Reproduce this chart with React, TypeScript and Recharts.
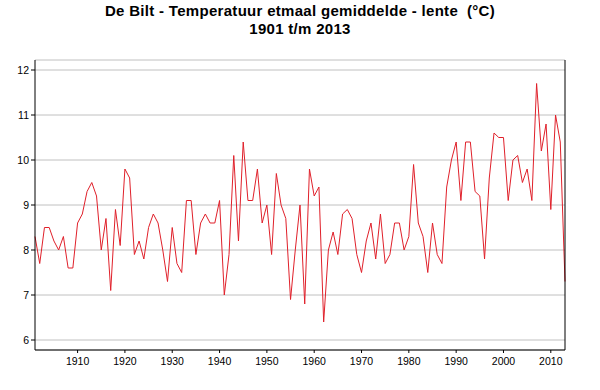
import { CartesianGrid, Line, LineChart, XAxis, YAxis } from "recharts";

const FIRST_YEAR = 1901;

// spring mean temperature, De Bilt, 1901..2013 (°C)
const temps = [
  8.3, 7.7, 8.5, 8.5, 8.2, 8.0, 8.3, 7.6, 7.6, 8.6,
  8.8, 9.3, 9.5, 9.2, 8.0, 8.7, 7.1, 8.9, 8.1, 9.8,
  9.6, 7.9, 8.2, 7.8, 8.5, 8.8, 8.6, 8.0, 7.3, 8.5,
  7.7, 7.5, 9.1, 9.1, 7.9, 8.6, 8.8, 8.6, 8.6, 9.1,
  7.0, 7.9, 10.1, 8.2, 10.4, 9.1, 9.1, 9.8, 8.6, 9.0,
  7.9, 9.7, 9.0, 8.7, 6.9, 8.0, 9.0, 6.8, 9.8, 9.2,
  9.4, 6.4, 8.0, 8.4, 7.9, 8.8, 8.9, 8.7, 7.9, 7.5,
  8.2, 8.6, 7.8, 8.8, 7.7, 7.9, 8.6, 8.6, 8.0, 8.3,
  9.9, 8.6, 8.3, 7.5, 8.6, 7.9, 7.7, 9.4, 10.0, 10.4,
  9.1, 10.4, 10.4, 9.3, 9.2, 7.8, 9.6, 10.6, 10.5, 10.5,
  9.1, 10.0, 10.1, 9.5, 9.8, 9.1, 11.7, 10.2, 10.8, 8.9,
  11.0, 10.4, 7.3,
];

const xTicks = [1910, 1920, 1930, 1940, 1950, 1960, 1970, 1980, 1990, 2000, 2010];
const yTicks = [6, 7, 8, 9, 10, 11, 12];

const data = temps.map((t, i) => ({ year: FIRST_YEAR + i, temp: t }));

const font = "Arial, 'Liberation Sans', sans-serif";
const tick = { fill: "#000", fontSize: 10.5, fontFamily: font };
const black = { stroke: "#000", strokeWidth: 1 };
// a bit of room above 12 and below 6, as in the original
const yDomain = [6 - 10 / 45, 12 + 10 / 45];

export default function App() {
  return (
    <div style={{ position: "absolute", left: 0, top: 0, width: 600, height: 390, background: "#fff" }}>
      <div
        style={{
          position: "absolute", top: 2, left: 0, width: 600, textAlign: "center",
          fontFamily: font, fontWeight: "bold", fontSize: 15, lineHeight: "18px",
          letterSpacing: "0.3px", color: "#000",
        }}
      >
        De Bilt - Temperatuur etmaal gemiddelde - lente&nbsp; (°C)
        <br />
        1901 t/m 2013
      </div>
      <LineChart width={600} height={390} data={data} margin={{ top: 60, right: 0, bottom: 0, left: 0 }}>
        <CartesianGrid yAxisId="left" vertical={false} stroke="#c0c0c0" />
        <XAxis
          dataKey="year" type="number" domain={[1901, 2013]} ticks={xTicks} height={40}
          tick={tick} tickSize={3} tickMargin={5} tickLine={black} axisLine={black}
        />
        <XAxis
          xAxisId="top" orientation="top" dataKey="year" type="number" domain={[1901, 2013]}
          height={0} tick={false} tickLine={false} axisLine={black}
        />
        <YAxis
          yAxisId="left" type="number" domain={yDomain} ticks={yTicks} width={35}
          tick={tick} tickSize={4} tickMargin={2} tickLine={black} axisLine={black}
        />
        <YAxis
          yAxisId="right" orientation="right" type="number" domain={yDomain} ticks={yTicks} width={35}
          tick={tick} tickSize={4} tickMargin={2} tickLine={black} axisLine={black}
        />
        <Line
          yAxisId="left" type="linear" dataKey="temp" stroke="#e0202a" strokeWidth={1}
          dot={false} isAnimationActive={false}
        />
      </LineChart>
    </div>
  );
}
